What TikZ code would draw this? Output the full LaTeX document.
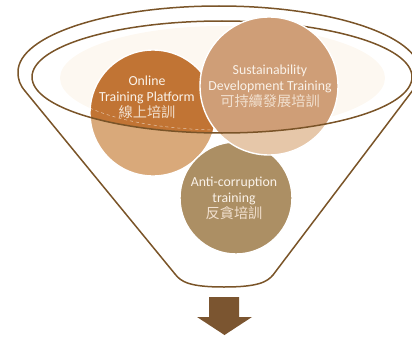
\documentclass[tikz,border=0pt]{standalone}
\usepackage{fontspec}
\setmainfont{Carlito}
\newfontfamily\cjkfont{Noto Sans CJK TC}
\definecolor{cOneDark}{HTML}{C17434}
\definecolor{cOneLight}{HTML}{D9A97A}
\definecolor{cTwoDark}{HTML}{CF9E77}
\definecolor{cTwoLight}{HTML}{E6C7A9}
\definecolor{cThree}{HTML}{AC8F64}
\definecolor{cream}{HTML}{FDF8F1}
\definecolor{rimc}{HTML}{7A5428}
\definecolor{arrowc}{HTML}{7B5530}
\definecolor{txtc}{HTML}{FAF2E9}
\definecolor{cjkc}{HTML}{F1E0CF}
\tikzset{
  rimline/.style={draw=rimc, line width=1.5pt, line join=round},
  ring/.style={draw=white, line width=1.4pt},
  lbl/.style={align=center, text=txtc, font=\fontsize{13.8}{16}\selectfont, inner sep=0pt},
}
\newcommand{\cj}[1]{{\cjkfont\fontsize{14.2}{16}\selectfont\color{cjkc}#1}}
\begin{document}
\begin{tikzpicture}[x=1pt,y=-1pt]
\useasboundingbox (0,0) rectangle (412,337);
\clip (0,0) rectangle (412,337);
% pale inner surface
\fill[cream] (222.5,78) ellipse [x radius=162.5, y radius=52];
% back half of inner rim
\draw[rimline] (32,77) .. controls (32,46) and (117,21) .. (222,21) .. controls (327,21) and (412,46) .. (412,77);
% circle 1
\fill[cOneLight] (153,113) circle [radius=63];
\begin{scope}
  \clip (32,77) .. controls (32,108) and (117,133) .. (222,133) .. controls (327,133) and (412,108) .. (412,77) -- (412,0) -- (32,0) -- cycle;
  \fill[cOneDark] (153,113) circle [radius=63];
  \clip (153,113) circle [radius=63];
  \draw[white, dashed, line width=0.5pt, opacity=0.6] (222.5,78) ellipse [x radius=162.5, y radius=52];
\end{scope}
\draw[ring] (153,113) circle [radius=63];
% circle 3
\fill[cThree] (236,198) circle [radius=56];
\draw[ring] (236,198) circle [radius=56];
% circle 2
\fill[cTwoLight] (269,86) circle [radius=69];
\begin{scope}
  \clip (32,77) .. controls (32,108) and (117,133) .. (222,133) .. controls (327,133) and (412,108) .. (412,77) -- (412,0) -- (32,0) -- cycle;
  \fill[cTwoDark] (269,86) circle [radius=69];
\end{scope}
\draw[ring] (269,86) circle [radius=69];
% front half of inner rim
\draw[rimline] (32,77) .. controls (32,108) and (117,133) .. (222,133) .. controls (327,133) and (412,108) .. (412,77);
% outer funnel
\draw[rimline] (175,274) -- (25,91) .. controls (20,85) and (18,80) .. (18,72)
  .. controls (18,35.5) and (108,6) .. (219,6)
  .. controls (330,6) and (420,35.5) .. (420,72)
  .. controls (420,80) and (417,84) .. (413,90) -- (273,275)
  .. controls (267,282) and (258,287) .. (224,287)
  .. controls (190,287) and (181,282) .. (175,274) -- cycle;
% labels
\node[lbl] (online) at (147,97.5) {Online\\Training Platform\\\cj{線上培訓}};
\node[lbl] (sustain) at (270,86) {Sustainability\\Development Training\\\cj{可持續發展培訓}};
\node[lbl] (anti) at (234,198.5) {Anti-corruption\\training\\\cj{反貪培訓}};
% arrow
\fill[arrowc] (209,297) -- (239,297) -- (239,317) -- (252,317) -- (224.5,335) -- (197,317) -- (209,317) -- cycle;
\end{tikzpicture}
\end{document}
